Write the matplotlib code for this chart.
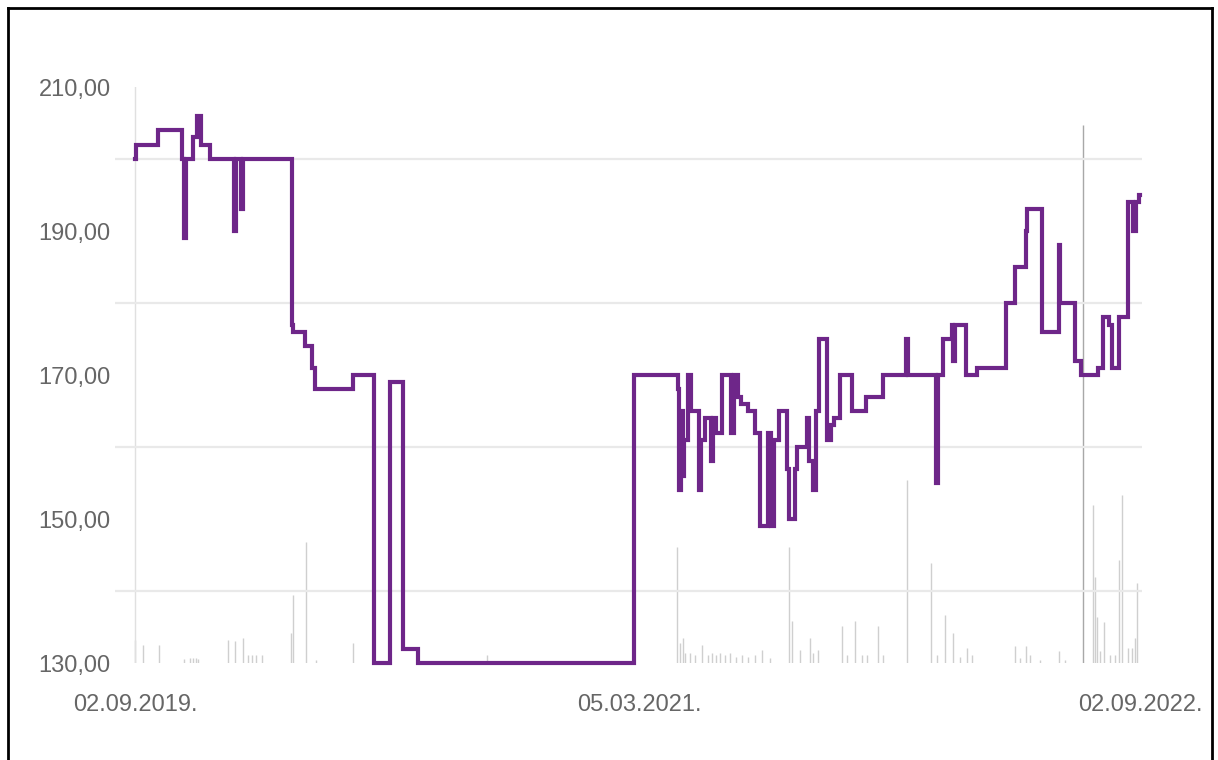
import pandas as pd
import matplotlib.pyplot as plt
from matplotlib.lines import Line2D
from matplotlib.ticker import FixedLocator

# price changes (step chart, value holds until next date)
price_dates = [
    '2019-09-02', '2019-09-03', '2019-09-27', '2019-10-23', '2019-10-25', '2019-10-28',
    '2019-11-04', '2019-11-09', '2019-11-13', '2019-11-23', '2019-12-19', '2019-12-21',
    '2019-12-27', '2019-12-29', '2020-02-20', '2020-02-21', '2020-03-05', '2020-03-13',
    '2020-03-16', '2020-04-27', '2020-05-20', '2020-06-06', '2020-06-20', '2020-07-07',
    '2021-02-27', '2021-04-16', '2021-04-17', '2021-04-19', '2021-04-21', '2021-04-23',
    '2021-04-27', '2021-04-30', '2021-05-09', '2021-05-11', '2021-05-15', '2021-05-22',
    '2021-05-24', '2021-05-28', '2021-06-03', '2021-06-13', '2021-06-16', '2021-06-21',
    '2021-06-24', '2021-07-01', '2021-07-09', '2021-07-15', '2021-07-23', '2021-07-27',
    '2021-07-30', '2021-08-04', '2021-08-13', '2021-08-15', '2021-08-22', '2021-08-24',
    '2021-09-04', '2021-09-06', '2021-09-10', '2021-09-14', '2021-09-17', '2021-09-26',
    '2021-09-30', '2021-10-03', '2021-10-10', '2021-10-23', '2021-11-07', '2021-11-26',
    '2021-12-21', '2021-12-23', '2022-01-22', '2022-01-25', '2022-01-30', '2022-02-09',
    '2022-02-10', '2022-02-12', '2022-02-24', '2022-03-08', '2022-04-09', '2022-04-19',
    '2022-04-30', '2022-05-02', '2022-05-18', '2022-06-05', '2022-06-07', '2022-06-23',
    '2022-06-29', '2022-07-18', '2022-07-23', '2022-07-30', '2022-08-02', '2022-08-10',
    '2022-08-20', '2022-08-25', '2022-08-29', '2022-09-01', '2022-09-02',
]
price_values = [
    200, 202, 204, 200, 189, 200,
    203, 206, 202, 200, 190, 200,
    193, 200, 177, 176, 174, 171,
    168, 170, 130, 169, 132, 130,
    170, 168, 154, 165, 156, 161,
    170, 165, 154, 161, 164, 158,
    164, 162, 170, 162, 170, 167,
    166, 165, 162, 149, 162, 149,
    161, 165, 157, 150, 157, 160,
    164, 158, 154, 165, 175, 161,
    163, 164, 170, 165, 167, 170,
    175, 170, 155, 170, 175, 177,
    172, 177, 170, 171, 180, 185,
    190, 193, 176, 188, 180, 172,
    170, 171, 178, 177, 171, 178,
    194, 190, 194, 195, 195,
]

# traded volume (arbitrary units)
volume_dates = [
    '2019-09-02', '2019-09-11', '2019-09-28', '2019-10-25', '2019-11-01', '2019-11-04',
    '2019-11-08', '2019-11-10', '2019-12-12', '2019-12-20', '2019-12-29', '2020-01-03',
    '2020-01-08', '2020-01-12', '2020-01-18', '2020-02-19', '2020-02-21', '2020-03-06',
    '2020-03-17', '2020-04-27', '2020-09-20', '2021-04-15', '2021-04-18', '2021-04-21',
    '2021-04-24', '2021-04-29', '2021-05-05', '2021-05-12', '2021-05-19', '2021-05-23',
    '2021-05-28', '2021-06-01', '2021-06-06', '2021-06-12', '2021-06-18', '2021-06-25',
    '2021-07-01', '2021-07-09', '2021-07-17', '2021-07-25', '2021-08-15', '2021-08-18',
    '2021-08-27', '2021-09-07', '2021-09-10', '2021-09-16', '2021-10-12', '2021-10-17',
    '2021-10-26', '2021-11-03', '2021-11-08', '2021-11-20', '2021-11-26', '2021-12-22',
    '2022-01-17', '2022-01-24', '2022-02-01', '2022-02-10', '2022-02-18', '2022-02-25',
    '2022-03-03', '2022-04-19', '2022-04-24', '2022-04-30', '2022-05-05', '2022-05-16',
    '2022-06-05', '2022-06-12', '2022-07-02', '2022-07-13', '2022-07-15', '2022-07-17',
    '2022-07-20', '2022-07-25', '2022-07-31', '2022-08-06', '2022-08-10', '2022-08-13',
    '2022-08-20', '2022-08-24', '2022-08-27', '2022-08-30',
]
volume_values = [
    23, 18, 18, 4, 5, 5,
    5, 4, 23, 22, 25, 8,
    8, 8, 8, 30, 68, 121,
    3, 20, 8, 116, 20, 25,
    10, 10, 8, 18, 8, 10,
    8, 10, 8, 10, 6, 8,
    6, 8, 13, 5, 116, 42,
    13, 25, 10, 13, 37, 8,
    42, 8, 8, 37, 8, 183,
    100, 8, 48, 30, 6, 15,
    8, 17, 5, 17, 8, 3,
    12, 3, 538, 158, 86, 46,
    12, 41, 8, 8, 103, 168,
    15, 15, 25, 80,
]

y_ticks = [130, 150, 170, 190, 210]
y_grid = [130, 140, 150, 160, 170, 180, 190, 200, 210]
x_tick_dates = ['2019-09-02', '2021-03-05', '2022-09-02']
x_tick_labels = ['02.09.2019.', '05.03.2021.', '02.09.2022.']

plt.rcParams['font.family'] = ['Liberation Sans', 'DejaVu Sans']

pdates = pd.to_datetime(price_dates)
vdates = pd.to_datetime(volume_dates)
start, end = pdates[0], pdates[-1]

fig = plt.figure(figsize=(12.18, 7.6), dpi=100)
ax = fig.add_axes([0.0944, 0.1276, 0.8432, 0.7579])
ax2 = ax.twinx()

# volume bars behind the price line
vcol = ['#a8a8a8' if v == max(volume_values) else '#cfcfcf' for v in volume_values]
ax2.vlines(vdates, 0, volume_values, colors=vcol, lw=1.0)
ax2.set_ylim(0, 576)
ax2.set_yticks([])
for s in ax2.spines.values():
    s.set_visible(False)

ax.set_zorder(ax2.get_zorder() + 1)
ax.patch.set_visible(False)
ax2.set_zorder(0)

ax.step(pdates, price_values, where='post', color='#6e2689', lw=3.0,
        solid_joinstyle='miter', clip_on=False, zorder=3)

ax.set_ylim(130, 210)
ax.set_xlim(start - pd.Timedelta(days=21.8), end + pd.Timedelta(days=2))
ax.yaxis.set_major_locator(FixedLocator(y_ticks))
ax.yaxis.set_minor_locator(FixedLocator(y_grid))
ax.set_yticklabels([f'{t:.2f}'.replace('.', ',') for t in y_ticks])
ax.grid(axis='y', which='minor', color='#e9e9e9', lw=1.6)
ax.axvline(start, color='#e0e0e0', lw=1.0, zorder=1)

ax.set_xticks(pd.to_datetime(x_tick_dates))
ax.set_xticklabels(x_tick_labels)
ax.tick_params(axis='both', which='both', length=0, labelcolor='#666666', labelsize=17)
ax.tick_params(axis='y', pad=3)
ax.tick_params(axis='x', pad=22)
for s in ax.spines.values():
    s.set_visible(False)

# dark frame of the screenshot
fig.add_artist(Line2D([8 / 1218, 8 / 1218], [0, 1 - 8 / 760], color='black', lw=2))
fig.add_artist(Line2D([8 / 1218, 1212 / 1218], [1 - 8 / 760, 1 - 8 / 760], color='black', lw=2))
fig.add_artist(Line2D([1212 / 1218, 1212 / 1218], [0, 1 - 8 / 760], color='black', lw=2))

fig.savefig('out.png', dpi=100)
